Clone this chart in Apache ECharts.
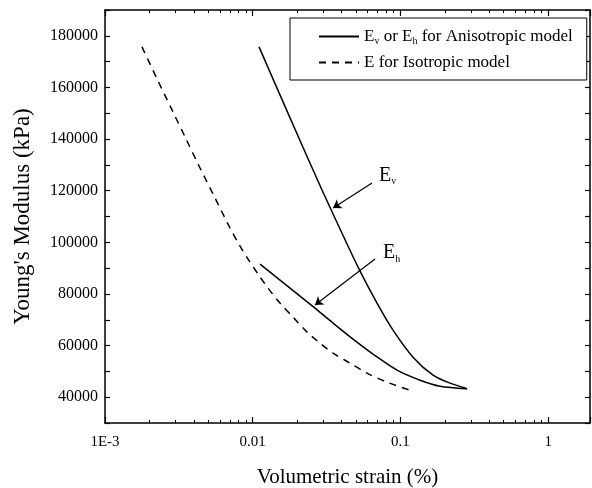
<!DOCTYPE html>
<html><head><meta charset="utf-8">
<script src="https://cdn.jsdelivr.net/npm/echarts@6/dist/echarts.min.js"></script>
<style>html,body{margin:0;padding:0;background:#fff}#c{width:592px;height:488px}</style>
</head><body><div id="c"></div>
<script>
// Volumetric strain (%) and Young's modulus (kPa)
const isoStrain = [0.001779, 0.00225, 0.002842, 0.003535, 0.004329, 0.005556, 0.00702, 0.008204, 0.009295, 0.010862, 0.012694, 0.015301, 0.018747, 0.023317, 0.02856, 0.03498, 0.045595, 0.059402, 0.08115, 0.1217];
const isoE      = [175730, 163320, 151300, 140050, 129580, 117170, 105540, 98560, 93520, 87700, 82270, 76450, 71020, 65210, 60940, 57060, 53190, 49310, 45820, 42330];
const evStrain  = [0.011033, 0.017889, 0.029451, 0.043509, 0.053276, 0.069438, 0.089095, 0.1217, 0.16625, 0.21666, 0.28242];
const evE       = [175730, 148200, 120270, 99330, 88860, 76450, 65980, 55510, 48530, 45430, 43300];
const ehStrain  = [0.011204, 0.014158, 0.020905, 0.026413, 0.03498, 0.047766, 0.065253, 0.094838, 0.13576, 0.18535, 0.28242];
const ehE       = [91580, 86920, 79170, 74510, 68700, 62490, 56680, 50470, 46590, 44270, 43300];
const xTickLabels = {'0.001':'1E-3','0.01':'0.01','0.1':'0.1','1':'1'};
const yLabelValues = [40000, 60000, 80000, 100000, 120000, 140000, 160000, 180000];
// annotation arrows: [tailStrain, tailE, headStrain, headE]
const evArrow = [0.0642, 123000, 0.035, 113300];
const ehArrow = [0.0673, 93500, 0.0264, 75700];
const evLabelPos = [0.0716, 125900];
const ehLabelPos = [0.0762, 95800];

const FONT = 'Liberation Serif';
const zip = (a, b) => a.map((v, i) => [v, b[i]]);
const chart = echarts.init(document.getElementById('c'), null, {renderer: 'canvas'});

const xFmt = v => { const k = String(+v.toPrecision(3)); return xTickLabels[k] !== undefined ? xTickLabels[k] : ''; };
const yFmt = v => yLabelValues.indexOf(v) >= 0 ? String(v) : '';

const axisLineStyle = {color: '#000', width: 1.5};
const xBase = {
  type: 'log', logBase: 10, min: 0.001, max: 1.92,
  axisLine: {show: true, lineStyle: axisLineStyle},
  axisTick: {show: true, inside: true, length: 6, lineStyle: {color: '#000', width: 1.2}},
  minorTick: {show: true, splitNumber: 9, length: 3, lineStyle: {color: '#000', width: 1}},
  splitLine: {show: false}, minorSplitLine: {show: false}
};
const yBase = {
  type: 'value', min: 30000, max: 190000, interval: 10000,
  axisLine: {show: true, lineStyle: axisLineStyle},
  axisTick: {show: true, inside: true, length: 5, lineStyle: {color: '#000', width: 1.2}},
  splitLine: {show: false}
};
const rich = {
  n: {fontFamily: FONT, fontSize: 17, color: '#000'},
  s: {fontFamily: FONT, fontSize: 10, color: '#000', verticalAlign: 'bottom', padding: [9, 0, 0, 0]}
};

chart.setOption({
  animation: false,
  backgroundColor: '#fff',
  grid: {left: 105, top: 10, right: 2, bottom: 65, containLabel: false, outerBoundsMode: 'none'},
  legend: {
    orient: 'vertical', left: 290, top: 18,
    padding: [10, 14, 9, 28], itemGap: 8, itemWidth: 40, itemHeight: 17,
    borderColor: '#000', borderWidth: 1, backgroundColor: '#fff',
    itemStyle: {opacity: 0},
    data: [{name: 'aniso'}, {name: 'iso'}],
    formatter: n => n === 'aniso' ? '{n|E}{s|v}{n| or E}{s|h}{n| for Anisotropic model}' : '{n|E for Isotropic model}',
    textStyle: {rich: rich, color: '#000'}
  },
  xAxis: [
    Object.assign({}, xBase, {
      position: 'bottom',
      axisLabel: {formatter: xFmt, fontFamily: FONT, fontSize: 15, color: '#000', margin: 12, showMaxLabel: false},
      name: 'Volumetric strain (%)', nameLocation: 'middle', nameGap: 44,
      nameTextStyle: {fontFamily: FONT, fontSize: 21, color: '#000'}
    }),
    Object.assign({}, xBase, {position: 'top', axisLabel: {show: false}})
  ],
  yAxis: [
    Object.assign({}, yBase, {
      position: 'left',
      axisLabel: {formatter: yFmt, fontFamily: FONT, fontSize: 16, color: '#000', margin: 7},
      name: "Young's Modulus (kPa)", nameLocation: 'middle', nameGap: 71, nameRotate: 90,
      nameTextStyle: {fontFamily: FONT, fontSize: 23, color: '#000'}
    }),
    Object.assign({}, yBase, {position: 'right', axisLabel: {show: false}})
  ],
  series: [
    {
      name: 'aniso', type: 'line', data: zip(evStrain, evE), smooth: 0.3, symbol: 'none',
      lineStyle: {color: '#000', width: 1.5, type: 'solid'}, itemStyle: {color: '#000'},
      markLine: {
        silent: true, symbol: ['none', 'arrow'], symbolSize: 8, label: {show: false},
        lineStyle: {color: '#000', width: 1.2, type: 'solid'},
        data: [
          [{coord: [evArrow[0], evArrow[1]]}, {coord: [evArrow[2], evArrow[3]]}],
          [{coord: [ehArrow[0], ehArrow[1]]}, {coord: [ehArrow[2], ehArrow[3]]}]
        ]
      },
      markPoint: {
        silent: true, symbol: 'circle', symbolSize: 0,
        label: {show: true, position: 'right', distance: 0, rich: {
          n: {fontFamily: FONT, fontSize: 20, color: '#000'},
          s: {fontFamily: FONT, fontSize: 10, color: '#000', padding: [12, 0, 0, 0]}
        }},
        data: [
          {coord: evLabelPos, label: {formatter: '{n|E}{s|v}'}},
          {coord: ehLabelPos, label: {formatter: '{n|E}{s|h}'}}
        ]
      }
    },
    {
      name: 'aniso', type: 'line', data: zip(ehStrain, ehE), smooth: 0.3, symbol: 'none',
      lineStyle: {color: '#000', width: 1.5, type: 'solid'}, itemStyle: {color: '#000'}
    },
    {
      name: 'iso', type: 'line', data: zip(isoStrain, isoE), smooth: 0.3, symbol: 'none',
      lineStyle: {color: '#000', width: 1.5, type: [7, 6]}, itemStyle: {color: '#000'}
    }
  ]
});
</script></body></html>
